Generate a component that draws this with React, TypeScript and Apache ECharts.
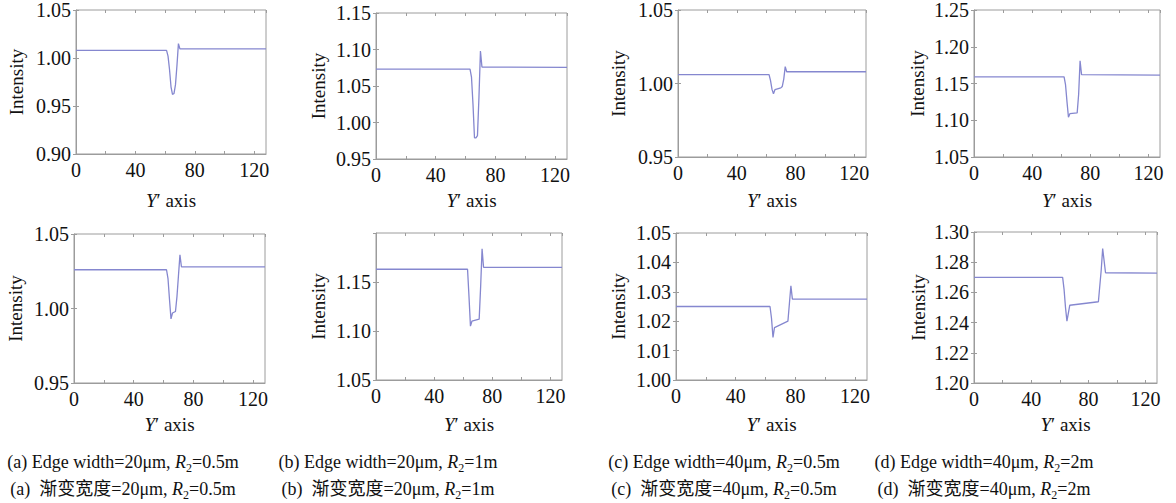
import React, { useEffect, useRef } from 'react';
import * as echarts from 'echarts';

// ---------- data ----------
const xMax = 128;
const xLabelStep = 40;
const xTickStep = 20;

const aTop = [[0, 1.008], [61, 1.008], [62, 1.002], [63, 0.988], [64, 0.970], [65, 0.962], [66, 0.963], [67, 0.972], [68, 0.992], [69, 1.015], [70, 1.0095], [128, 1.0095]];
const bTop = [[0, 1.073], [63, 1.073], [64, 1.062], [65, 1.025], [66, 0.979], [67, 0.979], [68, 0.982], [69, 1.035], [70, 1.098], [71, 1.076], [128, 1.0755]];
const cTop = [[0, 1.006], [62, 1.006], [63, 1.002], [64, 0.996], [65, 0.993], [66, 0.9958], [70, 0.997], [71, 0.998], [72, 1.003], [73, 1.0115], [74, 1.008], [128, 1.008]];
const dTop = [[0, 1.159], [62, 1.159], [63, 1.148], [64, 1.125], [65, 1.104], [66, 1.109], [71, 1.110], [72, 1.135], [73, 1.181], [74, 1.162], [128, 1.1615]];
const aBot = [[0, 1.026], [62, 1.026], [63, 1.020], [64, 1.006], [65, 0.993], [66, 0.997], [68, 0.998], [69, 1.008], [70, 1.022], [71, 1.036], [72, 1.028], [128, 1.028]];
const bBot = [[0, 1.163], [63, 1.163], [64, 1.135], [65, 1.105], [66, 1.110], [71, 1.112], [72, 1.145], [73, 1.184], [74, 1.165], [128, 1.165]];
const cBot = [[0, 1.025], [63, 1.025], [64, 1.021], [65, 1.0145], [66, 1.0178], [75, 1.020], [76, 1.026], [77, 1.032], [78, 1.0275], [128, 1.0275]];
const dBot = [[0, 1.270], [62, 1.270], [63, 1.262], [64, 1.250], [65, 1.241], [67, 1.2515], [87, 1.2538], [89, 1.275], [90, 1.289], [92, 1.273], [128, 1.2727]];

const panelSeries = [aTop, bTop, cTop, dTop, aBot, bBot, cBot, dBot];
const yMins = [0.90, 0.95, 0.95, 1.05, 0.95, 1.05, 1.00, 1.20];
const yMaxs = [1.05, 1.15, 1.05, 1.25, 1.05, 1.20, 1.05, 1.30];
const ySteps = [0.05, 0.05, 0.05, 0.05, 0.05, 0.05, 0.01, 0.02];
const yShowMaxLabel = [true, true, true, true, true, false, true, true];

const yName = 'Intensity';
const xNameItalic = 'Y';
const xNameRest = '′ axis';

const capPrefix = ['(a)', '(b)', '(c)', '(d)'];
const capEdge = ['20μm', '20μm', '40μm', '40μm'];
const capR2 = ['0.5m', '1m', '0.5m', '2m'];
const capEnWord = 'Edge width';
const capZhWord = '渐变宽度';

// ---------- layout ----------
const gLeft = [76, 376, 678, 974, 74, 376, 676, 974];
const gTop = [9, 13, 9, 9, 234, 233, 233, 232];
const gWidth = [190, 191, 188, 186, 191, 186, 191, 183];
const gHeight = [145, 146, 148, 148, 149, 147, 147, 151];
const yNameX = [16, 318, 618, 917, 15, 318, 618, 918];
const xNameY = [201, 201, 201, 201, 425, 425, 425, 425];
const capX = [123, 388, 724, 984];
const capY1 = 462;
const capY2 = 489;

const SERIF = 'Liberation Serif, serif';
const CAPFONT = 'Liberation Serif, Noto Sans CJK SC, serif';
const LINE = '#8587cf';
const FRAME = '#9c9c9c';
const TXT = '#111111';

export default function App() {
  const ref = useRef<HTMLDivElement>(null);

  useEffect(() => {
    if (!ref.current) return;
    const chart = echarts.init(ref.current, undefined, { renderer: 'svg' });

    const grid: any[] = [];
    const xAxis: any[] = [];
    const yAxis: any[] = [];
    const series: any[] = [];

    panelSeries.forEach((data, i) => {
      grid.push({
        left: gLeft[i], top: gTop[i], width: gWidth[i], height: gHeight[i],
        show: true, borderColor: FRAME, borderWidth: 1, backgroundColor: 'transparent',
      });
      const gridBottom = gTop[i] + gHeight[i];
      const tick = { show: true, inside: true, length: 3, lineStyle: { color: FRAME, width: 1 } };
      xAxis.push({
        type: 'value', gridIndex: i, min: 0, max: xMax, interval: xTickStep,
        position: 'bottom',
        axisLine: { show: true, lineStyle: { color: FRAME } },
        axisTick: tick, splitLine: { show: false },
        axisLabel: {
          show: true, margin: 6, color: TXT, fontFamily: SERIF, fontSize: 20,
          showMaxLabel: false,
          formatter: (v: number) => (Math.round(v) % xLabelStep === 0 ? String(Math.round(v)) : ''),
        },
        name: `{i|${xNameItalic}}${xNameRest}`,
        nameLocation: 'middle',
        nameGap: xNameY[i] - gridBottom - 10,
        nameTextStyle: {
          color: TXT, fontFamily: SERIF, fontSize: 19,
          rich: { i: { fontStyle: 'italic', fontFamily: SERIF, fontSize: 19, color: TXT } },
        },
      });
      xAxis.push({
        type: 'value', gridIndex: i, min: 0, max: xMax, interval: xTickStep,
        position: 'top', axisLine: { show: false }, axisTick: tick,
        axisLabel: { show: false }, splitLine: { show: false },
      });
      yAxis.push({
        type: 'value', gridIndex: i, min: yMins[i], max: yMaxs[i], interval: ySteps[i],
        position: 'left',
        axisLine: { show: true, lineStyle: { color: FRAME } },
        axisTick: tick, splitLine: { show: false },
        axisLabel: {
          show: true, margin: 5, color: TXT, fontFamily: SERIF, fontSize: 20,
          padding: [6, 0, 0, 0],
          showMaxLabel: yShowMaxLabel[i],
          formatter: (v: number) => v.toFixed(2),
        },
        name: yName, nameLocation: 'middle',
        nameGap: gLeft[i] - yNameX[i] - 10,
        nameTextStyle: { color: TXT, fontFamily: SERIF, fontSize: 19 },
      });
      yAxis.push({
        type: 'value', gridIndex: i, min: yMins[i], max: yMaxs[i], interval: ySteps[i],
        position: 'right', axisLine: { show: false }, axisTick: tick,
        axisLabel: { show: false }, splitLine: { show: false },
      });
      series.push({
        type: 'line', xAxisIndex: i * 2, yAxisIndex: i * 2, data,
        showSymbol: false, symbol: 'none', smooth: false,
        lineStyle: { color: LINE, width: 1.3 },
        silent: true,
      });
    });

    const rich = {
      i: { fontStyle: 'italic', fontFamily: CAPFONT, fontSize: 18, fill: TXT, color: TXT },
      s: { fontFamily: CAPFONT, fontSize: 12, verticalAlign: 'bottom', lineHeight: 12, padding: [0, 0, -3, 0], fill: TXT, color: TXT },
      n: { fontFamily: CAPFONT, fontSize: 18, fill: TXT, color: TXT },
    };
    const graphic: any[] = [];
    capPrefix.forEach((p, k) => {
      const l1 = `{n|${p} ${capEnWord}=${capEdge[k]}, }{i|R}{s|2}{n|=${capR2[k]}}`;
      const l2 = `{n|${p}  ${capZhWord}=${capEdge[k]}, }{i|R}{s|2}{n|=${capR2[k]}}`;
      [l1, l2].forEach((t, j) => {
        graphic.push({
          type: 'text', x: capX[k], y: j === 0 ? capY1 : capY2,
          style: {
            text: t, rich, fontFamily: CAPFONT, fontSize: 18, fill: TXT,
            align: 'center', verticalAlign: 'middle',
          },
        });
      });
    });

    chart.setOption({
      animation: false,
      backgroundColor: '#ffffff',
      grid, xAxis, yAxis, series, graphic,
    });

    return () => chart.dispose();
  }, []);

  return (
    <div
      ref={ref}
      style={{ position: 'absolute', left: 0, top: 0, width: 1176, height: 503 }}
    />
  );
}
